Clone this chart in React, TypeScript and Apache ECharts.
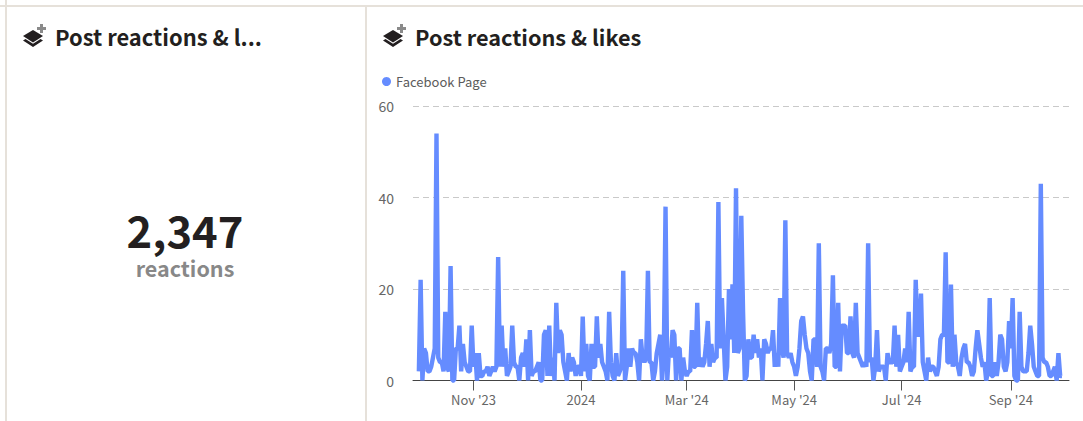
import React, { useEffect, useRef } from "react";
import * as echarts from "echarts";

const FONT = '"Noto Sans CJK SC", "Noto Sans", sans-serif';
const seriesName = "Facebook Page";
const chartTitle = "Post reactions & likes";
const cardTitle = "Post reactions & l...";
const kpiValue = "2,347";
const kpiLabel = "reactions";
const yTicks = [0, 20, 40, 60];
const tickMonths: [number, number, string][] = [
  [2023, 10, "Nov '23"],
  [2024, 0, "2024"],
  [2024, 2, "Mar '24"],
  [2024, 4, "May '24"],
  [2024, 6, "Jul '24"],
  [2024, 8, "Sep '24"],
];
// daily values starting 1 Oct 2023
const dailyReactions = [
  2, 22, 0, 7, 6, 2, 2, 3, 5, 7,
  54, 5, 4, 4, 2, 15, 3, 2, 25, 0,
  0, 7, 7, 12, 2, 8, 4, 3, 2, 2,
  12, 3, 6, 0, 6, 1, 1, 2, 2, 3,
  1, 2, 3, 2, 3, 27, 3, 12, 3, 7,
  1, 2, 3, 12, 4, 3, 3, 0, 5, 6,
  3, 9, 0, 11, 1, 2, 2, 3, 4, 0,
  0, 10, 11, 1, 12, 1, 5, 0, 17, 6,
  11, 10, 4, 2, 0, 6, 2, 5, 4, 1,
  3, 3, 1, 14, 2, 8, 1, 0, 8, 3,
  3, 14, 5, 8, 4, 3, 2, 0, 15, 4,
  1, 0, 6, 1, 2, 3, 24, 0, 3, 7,
  3, 7, 6, 6, 4, 0, 9, 5, 4, 5,
  24, 4, 4, 0, 2, 6, 8, 10, 0, 5,
  38, 0, 7, 5, 11, 10, 0, 7, 7, 0,
  5, 2, 1, 2, 2, 11, 3, 3, 17, 3,
  5, 3, 4, 8, 13, 3, 8, 4, 5, 5,
  39, 7, 18, 9, 0, 3, 20, 9, 21, 6,
  42, 6, 7, 36, 15, 0, 1, 9, 5, 5,
  10, 6, 9, 5, 7, 0, 9, 8, 6, 7,
  7, 11, 3, 6, 3, 18, 7, 5, 35, 6,
  5, 6, 4, 3, 1, 3, 7, 13, 14, 10,
  7, 6, 2, 0, 9, 9, 3, 30, 3, 2,
  0, 7, 7, 6, 8, 23, 3, 3, 17, 2,
  12, 12, 12, 6, 6, 14, 6, 5, 17, 6,
  5, 4, 3, 4, 3, 30, 4, 5, 0, 3,
  11, 2, 3, 3, 3, 0, 6, 4, 4, 4,
  12, 3, 10, 2, 3, 4, 7, 4, 15, 2,
  3, 3, 22, 10, 10, 19, 4, 2, 0, 5,
  2, 3, 3, 2, 1, 3, 9, 10, 10, 28,
  4, 4, 21, 3, 10, 4, 3, 1, 5, 7,
  8, 4, 4, 3, 1, 2, 7, 11, 8, 5,
  3, 4, 0, 2, 18, 1, 1, 4, 1, 4,
  10, 9, 3, 2, 4, 13, 7, 18, 1, 0,
  0, 15, 3, 2, 2, 2, 6, 12, 8, 3,
  2, 1, 1, 43, 5, 4, 4, 3, 1, 1,
  2, 3, 0, 6, 1, 1,
];

const BORDER = "#e6e1da";
const INK = "#231f20";
const BLUE = "#658cff";

function icon(x: number, y: number) {
  return [
    { type: "polygon", shape: { points: [[x, y + 7], [x + 10, y + 1], [x + 20, y + 7], [x + 10, y + 13.5]] }, style: { fill: INK } },
    { type: "polygon", shape: { points: [[x, y + 11.5], [x + 2.5, y + 10], [x + 10, y + 14.8], [x + 17.5, y + 10], [x + 20, y + 11.5], [x + 10, y + 18]] }, style: { fill: INK } },
    { type: "rect", shape: { x: x + 17, y: y - 5, width: 3, height: 9 }, style: { fill: "#8a8a8a" } },
    { type: "rect", shape: { x: x + 14, y: y - 2, width: 9, height: 3 }, style: { fill: "#8a8a8a" } },
  ];
}

export default function App() {
  const ref = useRef<HTMLDivElement>(null);
  useEffect(() => {
    const chart = echarts.init(ref.current!, undefined, { renderer: "svg" });
    const data = dailyReactions.map((v, i) => [new Date(2023, 9, 1 + i).getTime(), v]);
    const tickValues = tickMonths.map(([y, m]) => new Date(y, m, 1).getTime());
    const labelOf = new Map(tickMonths.map(([y, m, l]) => [new Date(y, m, 1).getTime(), l]));
    chart.setOption({
      animation: false,
      backgroundColor: "#ffffff",
      textStyle: { fontFamily: FONT },
      legend: {
        show: true,
        left: 377,
        top: 70,
        icon: "circle",
        itemWidth: 9,
        itemHeight: 9,
        itemGap: 6,
        textStyle: { color: "#5b5b5b", fontSize: 13, fontFamily: FONT },
        data: [seriesName],
      },
      grid: { left: 413, right: 14, top: 106, bottom: 40.5 },
      xAxis: {
        type: "value",
        min: new Date(2023, 8, 27, 16).getTime(),
        max: new Date(2024, 9, 4).getTime(),
        axisLine: { show: true, lineStyle: { color: "#444444", width: 1 } },
        axisTick: { show: true, customValues: tickValues, length: 10, lineStyle: { color: "#555555", width: 1 } },
        axisLabel: {
          customValues: tickValues,
          formatter: (v: number) => labelOf.get(v) ?? "",
          color: "#666666",
          fontSize: 13,
          fontFamily: FONT,
          margin: 12,
        },
        splitLine: { show: false },
      },
      yAxis: {
        type: "value",
        min: yTicks[0],
        max: yTicks[yTicks.length - 1],
        interval: 20,
        axisLine: { show: false },
        axisTick: { show: false },
        axisLabel: { color: "#666666", fontSize: 14, fontFamily: FONT, margin: 19 },
        splitLine: { show: true, lineStyle: { color: "#c9c9c9", width: 1, type: [6, 4] } },
      },
      series: [
        {
          name: seriesName,
          type: "line",
          data,
          color: BLUE,
          clip: false,
          showSymbol: false,
          smooth: false,
          lineStyle: { color: BLUE, width: 4.4, join: "bevel", cap: "butt" },
        },
      ],
      graphic: [
        { type: "rect", shape: { x: 5, y: 0, width: 2, height: 421 }, style: { fill: BORDER }, silent: true },
        { type: "rect", shape: { x: 0, y: 5, width: 1083, height: 2 }, style: { fill: BORDER }, silent: true },
        { type: "rect", shape: { x: 365, y: 5, width: 2, height: 416 }, style: { fill: BORDER }, silent: true },
        ...icon(23, 29),
        ...icon(383, 29),
        { type: "text", x: 55, y: 36, style: { text: cardTitle, fill: INK, font: `700 21.9px ${FONT}`, textVerticalAlign: "middle" } },
        { type: "text", x: 415, y: 36, style: { text: chartTitle, fill: INK, font: `700 21.7px ${FONT}`, textVerticalAlign: "middle" } },
        { type: "text", x: 185, y: 229, style: { text: kpiValue, fill: INK, font: `700 43.5px ${FONT}`, textAlign: "center", textVerticalAlign: "middle" } },
        { type: "text", x: 185, y: 267.5, style: { text: kpiLabel, fill: "#888888", font: `700 21.5px ${FONT}`, textAlign: "center", textVerticalAlign: "middle" } },
      ],
    });
    return () => chart.dispose();
  }, []);
  return <div ref={ref} style={{ position: "absolute", left: 0, top: 0, width: 1083, height: 421 }} />;
}
